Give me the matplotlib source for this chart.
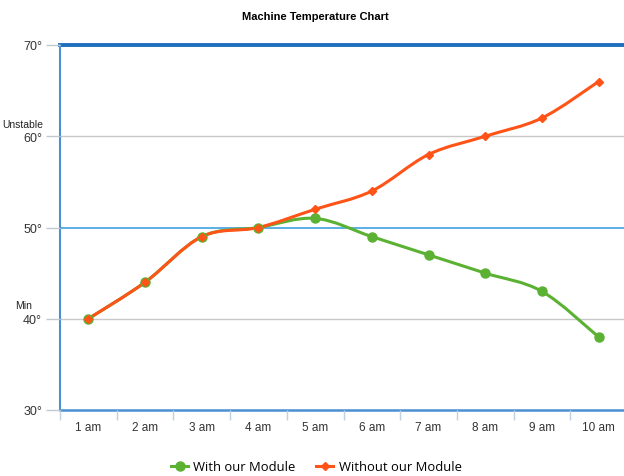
import matplotlib
matplotlib.use("Agg")
import matplotlib.pyplot as plt
from matplotlib.path import Path
from matplotlib.patches import PathPatch
from matplotlib.lines import Line2D

hours = ["1 am", "2 am", "3 am", "4 am", "5 am", "6 am", "7 am", "8 am", "9 am", "10 am"]
with_module = [40, 44, 49, 50, 51, 49, 47, 45, 43, 38]
without_module = [40, 44, 49, 50, 52, 54, 58, 60, 62, 66]
y_ticks = [30, 40, 50, 60, 70]

plt.rcParams["font.family"] = ["Liberation Sans", "DejaVu Sans"]

green = "#5ab132"
orange = "#ff5317"
blue_dark = "#1f6fc0"
blue_light = "#3ea2e2"
axis_blue = "#4a8fd2"


def smooth_path(xs, ys, t=0.5):
    # catmull-rom style bezier through every point
    verts = [(xs[0], ys[0])]
    codes = [Path.MOVETO]
    n = len(xs)
    for i in range(n - 1):
        x0, y0 = (xs[i - 1], ys[i - 1]) if i > 0 else (xs[i], ys[i])
        x1, y1 = xs[i], ys[i]
        x2, y2 = xs[i + 1], ys[i + 1]
        x3, y3 = (xs[i + 2], ys[i + 2]) if i + 2 < n else (x2, y2)
        c1 = (x1 + (x2 - x0) * t / 3, y1 + (y2 - y0) * t / 3)
        c2 = (x2 - (x3 - x1) * t / 3, y2 - (y3 - y1) * t / 3)
        verts += [c1, c2, (x2, y2)]
        codes += [Path.CURVE4] * 3
    return Path(verts, codes)


fig = plt.figure(figsize=(6.24, 4.77), dpi=100)
ax = fig.add_axes([60 / 624, 66 / 477, 567 / 624, 365 / 477])
ax.set_xlim(-0.5, 9.5)
ax.set_ylim(30, 70)

for s in ax.spines.values():
    s.set_visible(False)

# grid lines
ax.axhline(40, color="#c8c8c8", lw=1, zorder=1)
ax.axhline(60, color="#c8c8c8", lw=1, zorder=1)
ax.axhline(50, color=blue_light, lw=1.2, zorder=1)
ax.axhline(70, color=blue_dark, lw=2.8, zorder=1, clip_on=False)
ax.axhline(30, color=axis_blue, lw=1.8, zorder=1, clip_on=False)
ax.axvline(-0.5, color=axis_blue, lw=1.5, zorder=1, clip_on=False)

xs = list(range(len(hours)))
for vals, col in [(with_module, green), (without_module, orange)]:
    ax.add_patch(PathPatch(smooth_path(xs, vals), fill=False, edgecolor=col, lw=2.2, zorder=3))

ax.plot(xs, with_module, "o", color=green, ms=6.5, zorder=4)
ax.plot(xs, without_module, "D", color=orange, ms=4.5, zorder=5)

ax.set_yticks(y_ticks)
ax.set_yticklabels([f"{v}°" for v in y_ticks], fontsize=9, color="#333333")
ax.set_xticks([i + 0.5 for i in range(-1, 10)], minor=False)
ax.set_xticklabels([])
ax.set_xticks(xs, minor=True)
ax.set_xticklabels(hours, minor=True, fontsize=8.5, color="#333333")
ax.tick_params(axis="x", which="major", length=7, color="#c0d0e0", width=1)
ax.tick_params(axis="x", which="minor", length=0, pad=8)
ax.tick_params(axis="y", length=10, color="#c0c8d0", width=1, pad=3)

fig.text(43 / 624, 1 - 125 / 477, "Unstable", fontsize=7.5, ha="right", va="center",
         color="#222222")
fig.text(32 / 624, 1 - 306 / 477, "Min", fontsize=7.5, ha="right", va="center",
         color="#222222")

fig.text(0.506, 1 - 17 / 477, "Machine Temperature Chart", fontsize=8, fontweight="bold",
         ha="center", va="center")

handles = [
    Line2D([], [], color=green, lw=2.2, marker="o", ms=6.5, label="With our Module"),
    Line2D([], [], color=orange, lw=2.2, marker="D", ms=4.5, label="Without our Module"),
]
fig.legend(handles=handles, loc="center", bbox_to_anchor=(0.507, 1 - 468 / 477), ncol=2,
           frameon=False, handlelength=1.3, columnspacing=1.6, handletextpad=0.4,
           prop={"family": "Open Sans", "size": 9.4})

fig.savefig("out.png", dpi=100)
